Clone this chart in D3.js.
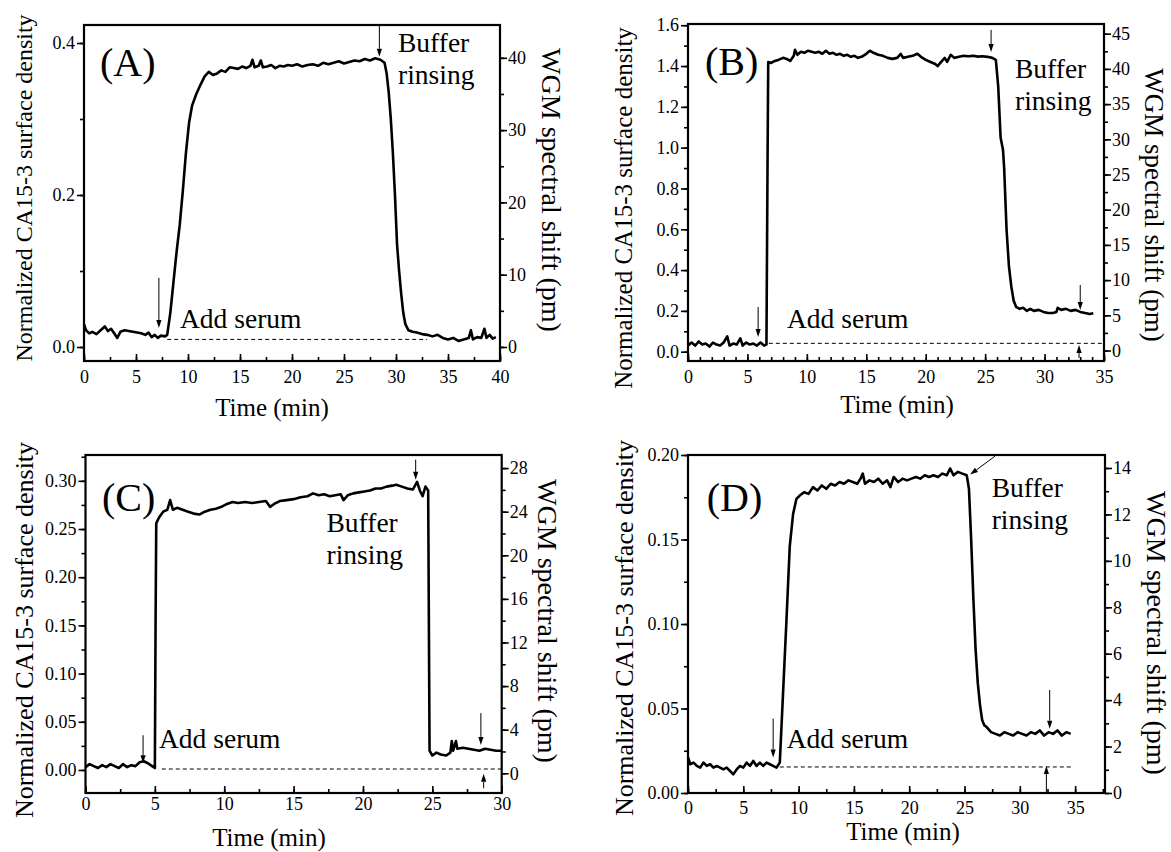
<!DOCTYPE html>
<html lang="en">
<head>
    <meta charset="UTF-8">
    <title>CA15-3 WGM sensorgrams</title>
    <script src="https://cdn.jsdelivr.net/npm/d3@7/dist/d3.min.js"></script>
    <style>
        body { margin: 0; background: #fff; }
        svg text { font-family: "Liberation Serif", "Times New Roman", serif; fill: #000; }
    </style>
</head>
<body>
    <script>
        // ---- data: time (min) and normalized surface density ----
        var timeA = [0, 0.2, 0.5, 0.8, 1.2, 1.6, 2.0, 2.3, 2.6, 3.0, 3.2, 3.5, 3.9, 4.3, 4.7, 5.1, 5.5, 5.9, 6.2, 6.5, 6.8, 7.1, 7.4, 7.8, 8.0,
            8.3, 8.6, 8.9, 9.2, 9.5, 9.8, 10.1, 10.4, 10.8, 11.2, 11.6, 12.0, 12.4, 12.8, 13.2, 13.6, 14.0, 14.4, 14.8, 15.2, 15.6, 16.0,
            16.2, 16.4, 16.8, 17.0, 17.2, 17.6, 18.0, 18.4, 18.8, 19.2, 19.6, 20.0, 20.5, 21.0, 21.5, 22.0, 22.5, 23.0, 23.5, 24.0, 24.5,
            25.0, 25.5, 26.0, 26.5, 27.0, 27.5, 28.0, 28.5, 28.9, 29.1, 29.3, 29.5, 29.7, 29.9, 30.1, 30.3, 30.5, 30.7, 30.9, 31.2, 31.6,
            32.0, 32.5, 33.0, 33.5, 34.0, 34.5, 35.0, 35.5, 36.0, 36.5, 37.0, 37.2, 37.4, 37.8, 38.2, 38.5, 38.7, 39.0, 39.3, 39.6];
        var densityA = [0.030, 0.022, 0.018, 0.020, 0.017, 0.022, 0.027, 0.021, 0.024, 0.016, 0.012, 0.020, 0.022, 0.021, 0.020, 0.019,
            0.018, 0.016, 0.019, 0.013, 0.016, 0.012, 0.015, 0.014, 0.016,
            0.045, 0.085, 0.125, 0.160, 0.205, 0.255, 0.295, 0.318, 0.333, 0.345, 0.356, 0.362, 0.358, 0.360, 0.364, 0.362, 0.368, 0.367,
            0.366, 0.369, 0.367, 0.370, 0.378, 0.368, 0.370, 0.377, 0.368, 0.369, 0.371, 0.367, 0.370, 0.369, 0.371, 0.370, 0.372, 0.369,
            0.371, 0.372, 0.370, 0.374, 0.372, 0.374, 0.376, 0.373, 0.375, 0.377, 0.376, 0.379, 0.377, 0.380, 0.378, 0.374, 0.360, 0.335,
            0.300, 0.255, 0.200, 0.135, 0.100, 0.070, 0.045, 0.030, 0.022, 0.020, 0.019, 0.017, 0.016, 0.014, 0.016, 0.012, 0.010, 0.012,
            0.008, 0.010, 0.012, 0.022, 0.010, 0.013, 0.012, 0.024, 0.012, 0.016, 0.011, 0.013];

        var timeB = [0, 0.3, 0.6, 0.9, 1.2, 1.5, 1.8, 2.1, 2.4, 2.7, 3.0, 3.3, 3.5, 3.8, 4.1, 4.4, 4.6, 4.9, 5.2, 5.5, 5.8, 6.1, 6.4, 6.6,
            6.7, 6.75, 7.0, 7.3, 7.6, 8.0, 8.3, 8.6, 8.9, 9.0, 9.2, 9.5, 9.8, 10.1, 10.4, 10.7, 11.0, 11.3, 11.6, 11.9, 12.2, 12.5, 12.8,
            13.1, 13.4, 13.7, 14.0, 14.3, 14.6, 15.0, 15.3, 15.6, 16.0, 16.4, 16.8, 17.2, 17.6, 17.9, 18.1, 18.5, 18.9, 19.3, 19.6, 20.0,
            20.4, 20.8, 21.0, 21.3, 21.6, 21.8, 22.1, 22.4, 22.8, 23.2, 23.6, 24.0, 24.4, 24.8, 25.2, 25.6, 25.9, 26.1, 26.3, 26.5, 26.6,
            26.8, 27.0, 27.2, 27.4, 27.6, 27.9, 28.2, 28.5, 28.8, 29.1, 29.5, 29.9, 30.3, 30.7, 31.0, 31.1, 31.4, 31.8, 32.2, 32.6, 33.0,
            33.4, 33.8, 34.1];
        var densityB = [0.030, 0.045, 0.030, 0.050, 0.035, 0.040, 0.025, 0.045, 0.035, 0.030, 0.045, 0.075, 0.030, 0.040, 0.035, 0.065,
            0.030, 0.045, 0.035, 0.040, 0.030, 0.045, 0.030, 0.035,
            1.000, 1.420, 1.415, 1.425, 1.430, 1.440, 1.435, 1.425, 1.450, 1.480, 1.455, 1.470, 1.465, 1.475, 1.470, 1.465, 1.470, 1.460,
            1.475, 1.460, 1.465, 1.455, 1.460, 1.450, 1.455, 1.445, 1.450, 1.440, 1.445, 1.460, 1.475, 1.465, 1.455, 1.450, 1.440, 1.435,
            1.440, 1.460, 1.440, 1.445, 1.450, 1.460, 1.445, 1.430, 1.420, 1.410, 1.400, 1.420, 1.440, 1.420, 1.455, 1.440, 1.445, 1.450,
            1.448, 1.450, 1.446, 1.448, 1.445, 1.440, 1.430, 1.300, 1.050, 0.990, 0.900, 0.600, 0.420, 0.320, 0.250, 0.220, 0.210, 0.215,
            0.200, 0.210, 0.200, 0.205, 0.195, 0.190, 0.190, 0.195, 0.215, 0.205, 0.210, 0.200, 0.205, 0.195, 0.190, 0.185, 0.188];

        var timeC = [0, 0.3, 0.6, 0.9, 1.2, 1.5, 1.8, 2.1, 2.4, 2.7, 3.0, 3.3, 3.6, 3.9, 4.2, 4.5, 4.8, 5.0, 5.05, 5.1, 5.3, 5.6, 5.9,
            6.1, 6.3, 6.6, 7.0, 7.4, 7.8, 8.2, 8.6, 9.0, 9.4, 9.8, 10.2, 10.6, 11.0, 11.5, 12.0, 12.5, 13.0, 13.3, 13.6, 14.0, 14.5, 15.0,
            15.5, 16.0, 16.4, 16.8, 17.2, 17.6, 18.0, 18.4, 18.6, 18.9, 19.3, 19.7, 20.1, 20.5, 20.9, 21.3, 21.7, 22.1, 22.4, 22.8, 23.2,
            23.6, 23.9, 24.1, 24.3, 24.5, 24.7, 24.8, 25.0, 25.3, 25.6, 26.0, 26.3, 26.4, 26.5, 26.7, 26.8, 27.2, 27.6, 28.0, 28.4, 28.8,
            29.2, 29.6, 30.0];
        var densityC = [0.003, 0.006, 0.004, 0.002, 0.005, 0.003, 0.006, 0.004, 0.002, 0.006, 0.003, 0.005, 0.004, 0.008, 0.009, 0.007,
            0.004, 0.002, 0.150, 0.256, 0.262, 0.268, 0.270, 0.280, 0.270, 0.272, 0.270, 0.268, 0.266, 0.265, 0.268, 0.270, 0.271, 0.273,
            0.276, 0.278, 0.277, 0.278, 0.277, 0.278, 0.279, 0.273, 0.276, 0.279, 0.280, 0.281, 0.283, 0.284, 0.287, 0.285, 0.286, 0.284,
            0.285, 0.286, 0.280, 0.285, 0.287, 0.288, 0.289, 0.290, 0.292, 0.292, 0.294, 0.295, 0.296, 0.294, 0.292, 0.291, 0.299, 0.290,
            0.284, 0.294, 0.290, 0.020, 0.015, 0.018, 0.016, 0.015, 0.018, 0.030, 0.020, 0.030, 0.022, 0.023, 0.022, 0.021, 0.020, 0.022,
            0.021, 0.020, 0.020];

        var timeD = [0, 0.2, 0.5, 0.8, 1.1, 1.4, 1.7, 2.0, 2.3, 2.6, 2.9, 3.2, 3.5, 3.8, 4.1, 4.4, 4.7, 5.0, 5.3, 5.6, 5.9, 6.2, 6.5,
            6.8, 7.1, 7.4, 7.7, 8.0, 8.3, 8.6, 8.9, 9.2, 9.5, 9.8, 10.1, 10.5, 10.9, 11.3, 11.7, 12.1, 12.5, 12.9, 13.3, 13.7, 14.1, 14.5,
            14.9, 15.3, 15.6, 15.8, 16.0, 16.4, 16.8, 17.2, 17.6, 18.0, 18.3, 18.6, 19.0, 19.4, 19.8, 20.2, 20.6, 21.0, 21.4, 21.8, 22.2,
            22.6, 23.0, 23.4, 23.7, 24.0, 24.4, 24.8, 25.2, 25.4, 25.6, 25.8, 26.0, 26.2, 26.4, 26.6, 26.8, 27.0, 27.4, 27.8, 28.2, 28.6,
            29.0, 29.4, 29.8, 30.2, 30.6, 31.0, 31.4, 31.8, 32.2, 32.6, 33.0, 33.4, 33.8, 34.2, 34.6];
        var densityD = [0.021, 0.017, 0.018, 0.016, 0.015, 0.018, 0.016, 0.017, 0.015, 0.016, 0.015, 0.014, 0.015, 0.013, 0.011, 0.014,
            0.016, 0.015, 0.018, 0.016, 0.019, 0.016, 0.018, 0.016, 0.018, 0.017, 0.016, 0.015, 0.018, 0.060, 0.102, 0.146, 0.165, 0.174,
            0.176, 0.178, 0.177, 0.181, 0.179, 0.182, 0.180, 0.183, 0.182, 0.184, 0.183, 0.185, 0.184, 0.183, 0.186, 0.189, 0.183, 0.185,
            0.184, 0.186, 0.183, 0.185, 0.181, 0.187, 0.184, 0.186, 0.185, 0.186, 0.187, 0.186, 0.188, 0.187, 0.188, 0.187, 0.189, 0.188,
            0.192, 0.188, 0.190, 0.189, 0.188, 0.180, 0.150, 0.115, 0.085, 0.065, 0.052, 0.043, 0.040, 0.039, 0.036, 0.035, 0.034, 0.036,
            0.035, 0.034, 0.036, 0.035, 0.034, 0.036, 0.035, 0.037, 0.034, 0.036, 0.035, 0.037, 0.034, 0.036, 0.035];

        // ---- tick labels ----
        var timeTicksA = [0, 5, 10, 15, 20, 25, 30, 35, 40];
        var timeTicksBD = [0, 5, 10, 15, 20, 25, 30, 35];
        var timeTicksC = [0, 5, 10, 15, 20, 25, 30];
        var densTicksA = [0, 0.2, 0.4];
        var densTicksB = [0, 0.2, 0.4, 0.6, 0.8, 1.0, 1.2, 1.4, 1.6];
        var densTicksC = [0, 0.05, 0.10, 0.15, 0.20, 0.25, 0.30];
        var densTicksD = [0, 0.05, 0.10, 0.15, 0.20];
        var shiftTicksA = [0, 10, 20, 30, 40];
        var shiftTicksB = [0, 5, 10, 15, 20, 25, 30, 35, 40, 45];
        var shiftTicksC = [0, 4, 8, 12, 16, 20, 24, 28];
        var shiftTicksD = [0, 2, 4, 6, 8, 10, 12, 14];

        // ---- annotations in data units: [time, from, to] arrows, baseline dashes ----
        var arrowsA = [[7.2, 0.091, 0.025], [28.4, 0.424, 0.382]];
        var arrowsB = [[5.9, 0.219, 0.072], [25.5, 1.577, 1.469], [33.0, 0.327, 0.204], [32.9, -0.031, 0.033]];
        var arrowsC = [[4.15, 0.036, 0.007], [23.8, 0.322, 0.301], [28.5, 0.059, 0.026], [28.7, -0.019, -0.004]];
        var arrowsD = [[7.7, 0.044, 0.021], [32.7, 0.061, 0.038], [32.4, 0.0, 0.016]];
        var baselineA = [8, 33, 0.010];
        var baselineB = [6.8, 35, 0.041];
        var baselineC = [5.5, 30, 0.001];
        var baselineD = [8.3, 34.8, 0.0154];

        var w = 1171;
        var h = 852;

        var svg = d3.select('body')
                    .append('svg')
                    .attr('width', w)
                    .attr('height', h);

        // panel layout (pixels) and axis domains
        var panels = [
            { tag: '(A)', time: timeA, dens: densityA, box: [84, 25, 500, 361],
              xDom: [0, 40], yDom: [-0.0184, 0.4237], rDom: [-1.94, 44.54],
              xTicks: timeTicksA, xMinor: 2.5, yTicks: densTicksA, yMinor: 0.1, yFmt: '.1f',
              rTicks: shiftTicksA, rMinor: 5, xPad: 9,
              arrows: arrowsA, base: baselineA, slant: null,
              tagPos: [16, 51], addPos: [96, 303], bufPos: [314, 27],
              leftTitle: [32, 188, 24], rightTitle: [542, 190, 28], bottomTitle: [272, 416, 25] },
            { tag: '(B)', time: timeB, dens: densityB, box: [688, 24, 1104, 361],
              xDom: [0, 35], yDom: [-0.0456, 1.606], rDom: [-1.49, 46.38],
              xTicks: timeTicksBD, xMinor: 1, yTicks: densTicksB, yMinor: 0.1, yFmt: '.1f',
              rTicks: shiftTicksB, rMinor: 2.5, xPad: 9,
              arrows: arrowsB, base: baselineB, slant: null,
              tagPos: [17, 51], addPos: [99, 304], bufPos: [327, 54],
              leftTitle: [632, 208, 25], rightTitle: [1145, 205, 27], bottomTitle: [897, 413, 25] },
            { tag: '(C)', time: timeC, dens: densityC, box: [85.5, 455, 501.7, 793],
              xDom: [0, 30], yDom: [-0.0239, 0.3268], rDom: [-1.81, 29.2],
              xTicks: timeTicksC, xMinor: 2.5, yTicks: densTicksC, yMinor: 0.025, yFmt: '.2f',
              rTicks: shiftTicksC, rMinor: 2, xPad: 4,
              arrows: arrowsC, base: baselineC, slant: null,
              tagPos: [16.5, 56], addPos: [73.5, 293], bufPos: [241, 77],
              leftTitle: [33, 630, 26], rightTitle: [538, 621, 28], bottomTitle: [269, 846, 25] },
            { tag: '(D)', time: timeD, dens: densityD, box: [688, 455, 1105, 793],
              xDom: [0, 37.7], yDom: [0, 0.2], rDom: [0, 14.56],
              xTicks: timeTicksBD, xMinor: 2.5, yTicks: densTicksD, yMinor: 0.025, yFmt: '.2f',
              rTicks: shiftTicksD, rMinor: 1, xPad: 8,
              arrows: arrowsD, base: baselineD, slant: [27.76, 0.1993, 25.5, 0.1884],
              tagPos: [18.7, 56], addPos: [98.7, 293], bufPos: [303.7, 41.7],
              leftTitle: [633, 628, 26], rightTitle: [1147, 633, 28], bottomTitle: [903, 840, 25] }
        ];

        function minorValues(dom, step) {
            var lo = Math.ceil(dom[0] / step - 1e-9) * step;
            return d3.range(lo, dom[1] + 1e-9, step);
        }

        //draws a thin arrow with a small filled head at (x2, y2)
        function drawArrow(g, x1, y1, x2, y2) {
            var ang = Math.atan2(y2 - y1, x2 - x1);
            var len = 8, half = 2.6;
            var bx = x2 - len * Math.cos(ang), by = y2 - len * Math.sin(ang);
            g.append('line')
                .attr('x1', x1).attr('y1', y1)
                .attr('x2', bx).attr('y2', by)
                .attr('stroke', '#000').attr('stroke-width', 1);
            g.append('path')
                .attr('d', 'M' + x2 + ',' + y2 +
                           'L' + (bx - half * Math.sin(ang)) + ',' + (by + half * Math.cos(ang)) +
                           'L' + (bx + half * Math.sin(ang)) + ',' + (by - half * Math.cos(ang)) + 'Z')
                .attr('fill', '#000');
        }

        panels.forEach(function(p) {
            var left = p.box[0], top = p.box[1], right = p.box[2], bottom = p.box[3];

            var xScale = d3.scaleLinear().domain(p.xDom).range([left, right]);
            var yScale = d3.scaleLinear().domain(p.yDom).range([bottom, top]);
            var rScale = d3.scaleLinear().domain(p.rDom).range([bottom, top]);

            var g = svg.append('g');

            //dashed baseline
            g.append('line')
                .attr('x1', xScale(p.base[0])).attr('x2', xScale(p.base[1]))
                .attr('y1', yScale(p.base[2])).attr('y2', yScale(p.base[2]))
                .attr('stroke', '#000').attr('stroke-width', 1)
                .attr('stroke-dasharray', '4,3');

            //sensorgram trace
            var pts = p.time.map(function(t, i) { return [t, p.dens[i]]; });
            var line = d3.line()
                .x(function(d) { return xScale(d[0]); })
                .y(function(d) { return yScale(d[1]); });
            g.append('path')
                .datum(pts)
                .attr('d', line)
                .attr('fill', 'none')
                .attr('stroke', '#000')
                .attr('stroke-width', 2.6)
                .attr('stroke-linejoin', 'round');

            //x axis: ticks point inward
            g.append('g')
                .attr('transform', 'translate(0,' + bottom + ')')
                .call(d3.axisBottom(xScale).tickValues(minorValues(p.xDom, p.xMinor))
                        .tickSize(-4).tickFormat(''))
                .call(function(a) { a.select('.domain').remove(); });
            g.append('g')
                .attr('transform', 'translate(0,' + bottom + ')')
                .call(d3.axisBottom(xScale).tickValues(p.xTicks)
                        .tickSize(-7).tickPadding(p.xPad).tickFormat(d3.format('d')))
                .call(function(a) { a.select('.domain').remove(); });

            //left axis: outward ticks
            g.append('g')
                .attr('transform', 'translate(' + left + ',0)')
                .call(d3.axisLeft(yScale).tickValues(minorValues(p.yDom, p.yMinor))
                        .tickSize(4).tickFormat(''))
                .call(function(a) { a.select('.domain').remove(); });
            g.append('g')
                .attr('transform', 'translate(' + left + ',0)')
                .call(d3.axisLeft(yScale).tickValues(p.yTicks)
                        .tickSize(7).tickPadding(2).tickFormat(d3.format(p.yFmt)))
                .call(function(a) { a.select('.domain').remove(); });

            //right axis: outward ticks
            g.append('g')
                .attr('transform', 'translate(' + right + ',0)')
                .call(d3.axisRight(rScale).tickValues(minorValues(p.rDom, p.rMinor))
                        .tickSize(4).tickFormat(''))
                .call(function(a) { a.select('.domain').remove(); });
            g.append('g')
                .attr('transform', 'translate(' + right + ',0)')
                .call(d3.axisRight(rScale).tickValues(p.rTicks)
                        .tickSize(7).tickPadding(1).tickFormat(d3.format('d')))
                .call(function(a) { a.select('.domain').remove(); });

            g.selectAll('.tick line').attr('stroke', '#000').attr('stroke-width', 1.6);
            g.selectAll('.tick text')
                .style('font-family', '"Liberation Serif", serif')
                .style('font-size', '18px')
                .attr('fill', '#000');

            //frame
            g.append('rect')
                .attr('x', left).attr('y', top)
                .attr('width', right - left).attr('height', bottom - top)
                .attr('fill', 'none')
                .attr('stroke', '#000')
                .attr('stroke-width', 2.2);

            //arrows
            p.arrows.forEach(function(a) {
                drawArrow(g, xScale(a[0]), yScale(a[1]), xScale(a[0]), yScale(a[2]));
            });
            if (p.slant) {
                drawArrow(g, xScale(p.slant[0]), yScale(p.slant[1]), xScale(p.slant[2]), yScale(p.slant[3]));
            }

            //panel text
            g.append('text')
                .attr('x', left + p.tagPos[0]).attr('y', top + p.tagPos[1])
                .style('font-size', '40px')
                .text(p.tag);
            g.append('text')
                .attr('x', left + p.addPos[0]).attr('y', top + p.addPos[1])
                .style('font-size', '27.5px')
                .text('Add serum');
            g.append('text')
                .attr('x', left + p.bufPos[0]).attr('y', top + p.bufPos[1])
                .style('font-size', '27.5px')
                .text('Buffer');
            g.append('text')
                .attr('x', left + p.bufPos[0]).attr('y', top + p.bufPos[1] + 32)
                .style('font-size', '27.5px')
                .text('rinsing');

            //axis titles
            g.append('text')
                .attr('transform', 'translate(' + p.leftTitle[0] + ',' + p.leftTitle[1] + ') rotate(-90)')
                .attr('text-anchor', 'middle')
                .style('font-size', p.leftTitle[2] + 'px')
                .text('Normalized CA15-3 surface density');
            g.append('text')
                .attr('transform', 'translate(' + p.rightTitle[0] + ',' + p.rightTitle[1] + ') rotate(90)')
                .attr('text-anchor', 'middle')
                .style('font-size', p.rightTitle[2] + 'px')
                .text('WGM spectral shift (pm)');
            g.append('text')
                .attr('x', p.bottomTitle[0]).attr('y', p.bottomTitle[1])
                .attr('text-anchor', 'middle')
                .style('font-size', p.bottomTitle[2] + 'px')
                .text('Time (min)');
        });
    </script>
</body>
</html>
